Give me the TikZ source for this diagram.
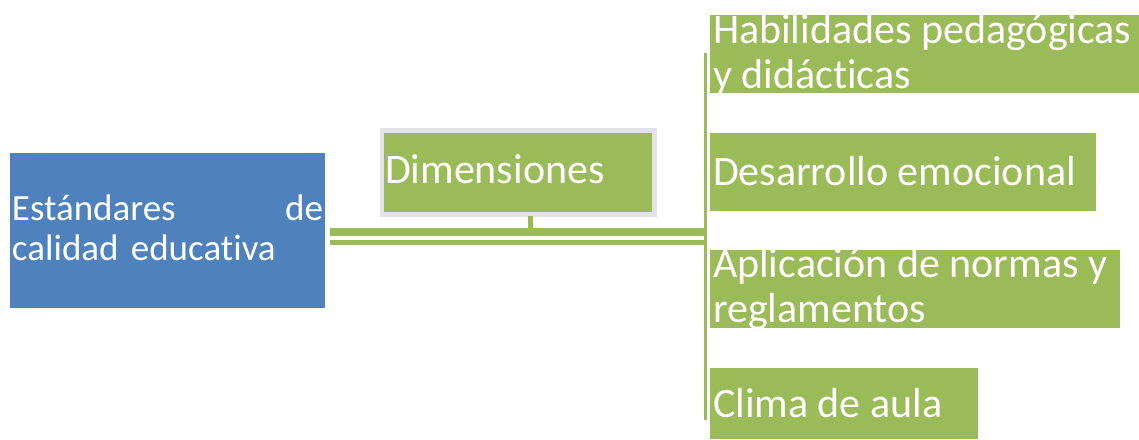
\documentclass[tikz,border=0pt]{standalone}
\usepackage{fontspec}
\setmainfont{Carlito}[Ligatures=NoCommon]
\definecolor{blueC}{HTML}{4F81BD}
\definecolor{greenC}{HTML}{9BBB59}
\definecolor{greyC}{HTML}{E3E3E3}
\begin{document}
\begin{tikzpicture}[x=1pt,y=-1pt,
  box/.style={draw=none, inner sep=0pt, outer sep=0pt, anchor=north west, fill=greenC},
  lbl/.style={text=white, inner sep=0pt, outer sep=0pt, anchor=base west, align=left, font=\fontsize{42}{45}\selectfont},
  lbls/.style={text=white, inner sep=0pt, outer sep=0pt, anchor=base west, align=left, font=\fontsize{37}{40}\selectfont},
  conn/.style={draw=greenC, line cap=butt}]
\useasboundingbox (0,0) rectangle (1139,439);
% left box
\node[box, fill=blueC, minimum width=315pt, minimum height=155pt] (std) at (10,153) {};
\node[lbls, text width=311pt] (stdt) at (12,220) {Estándares\hfill de\\\mbox{calidad educativa}};
% Dimensiones
\node[box, draw=greyC, line width=4.5pt, minimum width=272.5pt, minimum height=84pt] (dim) at (382,130.5) {};
\node[lbl] (dimt) at (385,183) {Dimensiones};
% right boxes
\node[box, minimum width=429pt, minimum height=78pt] (b1) at (710,15) {};
\node[lbl] (t1) at (713,88) {Habilidades pedagógicas\\y didácticas};
\node[box, minimum width=386pt, minimum height=78pt] (b2) at (710,133) {};
\node[lbl] (t2) at (713,185) {Desarrollo emocional};
\node[box, minimum width=410pt, minimum height=78pt] (b3) at (710,250) {};
\node[lbl] (t3) at (713,322) {Aplicación de normas y\\reglamentos};
\node[box, minimum width=268pt, minimum height=71pt] (b4) at (710,368) {};
\node[lbl] (t4) at (713,417) {Clima de aula};
% connectors
\coordinate (vtop) at (705.5,53);
\coordinate (vbot) at (705.5,420);
\coordinate (s1) at (330,231.5);
\coordinate (j1) at (707,231.5);
\coordinate (s2) at (330,242.5);
\coordinate (j2) at (707,242.5);
\coordinate (d1) at (530,216);
\coordinate (d2) at (530,228);
\draw[conn, line width=3.5pt] (vtop) -- (vbot);
\draw[conn, line width=8pt] (s1) -- (j1);
\draw[conn, line width=5pt] (s2) -- (j2);
\draw[conn, line width=5pt] (d1) -- (d2);
\end{tikzpicture}
\end{document}
